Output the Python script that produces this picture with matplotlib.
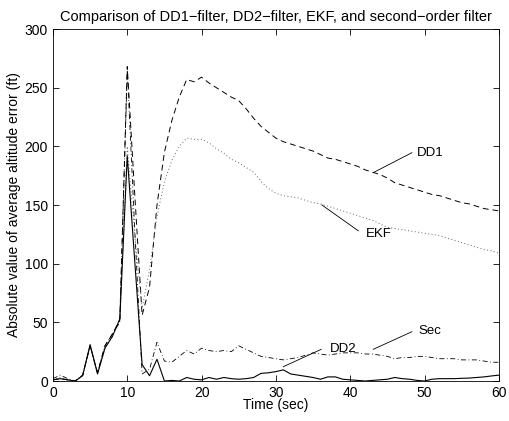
import numpy as np
import matplotlib
matplotlib.use("Agg")
import matplotlib.pyplot as plt
from matplotlib import rcParams

rcParams.update({
    "font.family": ["Liberation Sans", "DejaVu Sans"],
    "font.size": 10,
    "axes.linewidth": 0.6,
    "xtick.direction": "in",
    "ytick.direction": "in",
    "xtick.top": True,
    "ytick.right": True,
    "xtick.major.size": 4,
    "ytick.major.size": 4,
    "xtick.major.width": 0.6,
    "ytick.major.width": 0.6,
    "xtick.labelsize": 10,
    "ytick.labelsize": 10,
})

t = np.arange(0, 61)

dd1 = [1, 2, 1, 0, 5, 30, 7, 30, 40, 52,
       268, 160, 56, 80, 150, 195, 222, 242, 257, 255,
       259, 254, 250, 246, 242, 239, 232, 224, 217, 212,
       207, 204, 202, 200, 198, 196, 193, 190, 189, 187,
       185, 183, 180, 178, 176, 173, 169, 167, 165, 163,
       161, 159, 158, 156, 154, 152, 151, 149, 147, 146, 145]

ekf = [1, 3, 1, 0, 5, 30, 7, 28, 38, 52,
       200, 125, 62, 95, 140, 170, 188, 200, 207, 206,
       206, 203, 198, 194, 189, 186, 182, 178, 170, 164,
       160, 158, 157, 156, 154, 152, 151, 149, 147, 145,
       143, 141, 139, 137, 134, 131, 130, 129, 128, 127,
       126, 125, 124, 122, 120, 118, 116, 114, 112, 111, 109]

sec = [2, 5, 2, 0, 5, 30, 7, 30, 40, 50,
       265, 130, 6, 10, 33, 17, 16, 21, 26, 23,
       28, 26, 25, 26, 25, 30, 27, 24, 21, 20,
       19, 18, 19, 20, 22, 24, 23, 22, 23, 24,
       24, 24, 23, 23, 22, 21, 19, 20, 20, 21,
       21, 20, 19, 19, 19, 18, 18, 18, 17, 16, 16]

dd2 = [1, 2, 1, 0, 4.5, 31, 6, 28, 38, 53,
       192, 103, 14, 4.5, 18.5, 0, 0.5, 0, 3, 1.5,
       1, 3, 1.5, 3, 2, 1.5, 2, 3, 6.5, 7,
       8, 9.5, 6, 5, 4, 3, 1.5, 3.5, 3.5, 1.5,
       1, 0.5, 0, 0.5, 1, 1.5, 3, 2, 1.5, 0.5,
       0, 1.5, 2, 2, 2, 2.3, 2.5, 3, 3.5, 4.3, 5]

fig = plt.figure(figsize=(5.09, 4.21), dpi=100)
ax = fig.add_axes([0.104, 0.095, 0.876, 0.836])

ax.plot(t, dd1, color="black", lw=0.7, ls=(0, (6, 4)))
ax.plot(t, ekf, color="#666666", lw=0.7, ls=(0, (1, 2.5)))
ax.plot(t, sec, color="black", lw=0.6, ls=(0, (6, 3, 1, 3)))
ax.plot(t, dd2, color="black", lw=0.8, ls="-")

# labels with pointer lines
ax.plot([43.1, 48.3], [177.6, 194.6], color="black", lw=0.6)
ax.text(49.0, 194, "DD1", fontsize=9.5, va="center", ha="left")
ax.plot([36.2, 41.1], [150, 128], color="black", lw=0.6)
ax.text(42.1, 125, "EKF", fontsize=9.5, va="center", ha="left")
ax.plot([43.1, 48.3], [27, 42], color="black", lw=0.6)
ax.text(49.2, 43, "Sec", fontsize=9.5, va="center", ha="left")
ax.plot([31.0, 36.1], [12.2, 27], color="black", lw=0.6)
ax.text(37.2, 27, "DD2", fontsize=9.5, va="center", ha="left")

ax.set_xlim(0, 60)
ax.set_ylim(0, 300)
ax.set_xticks(np.arange(0, 61, 10))
ax.set_yticks(np.arange(0, 301, 50))
ax.set_xlabel("Time (sec)", labelpad=-1)
ax.set_ylabel("Absolute value of average altitude error (ft)", labelpad=3)
ax.set_title("Comparison of DD1\u2212filter, DD2\u2212filter, EKF, and second\u2212order filter",
             fontsize=10.5, pad=6)

fig.savefig("out.png", dpi=100)
plt.close(fig)
